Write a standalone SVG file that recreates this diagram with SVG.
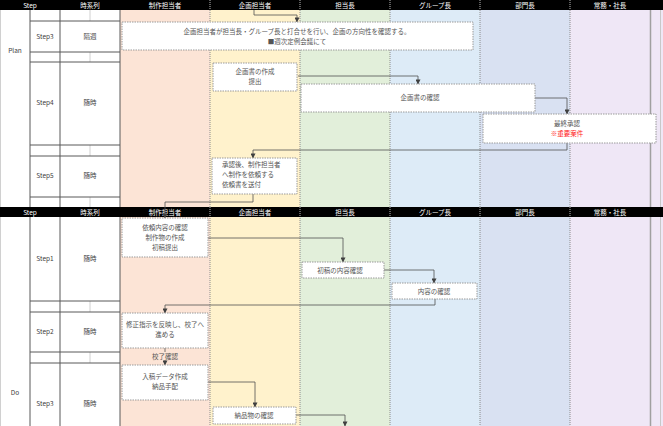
<svg xmlns="http://www.w3.org/2000/svg" width="663" height="426" viewBox="0 0 663 426">
<defs>
<marker id="ah" viewBox="0 0 6 6" refX="5.5" refY="3" markerWidth="5" markerHeight="5" orient="auto" markerUnits="userSpaceOnUse"><path d="M0,0 L6,3 L0,6 z" fill="#404040"/></marker>
<style>
text{font-family:"Noto Sans CJK JP","Liberation Sans",sans-serif;font-size:6.5px}
.hd{fill:#ffffff;text-anchor:middle}
.lt{fill:#404040;text-anchor:middle}
.bt{fill:#555555;text-anchor:middle}
.bl{fill:#555555}
.red{fill:#ff2020;text-anchor:middle}
.box{fill:#ffffff;stroke:#9a9a9a;stroke-width:1;stroke-dasharray:1.5 1}
.lane{stroke:#8a8a8a;stroke-width:1;stroke-dasharray:1 1;fill:none}
.hdiv{stroke:#bbbbbb;stroke-width:1;stroke-dasharray:1 1;fill:none}
.tl{stroke:#595959;stroke-width:1;fill:none}
.tl2{stroke:#d0d0d0;stroke-width:1;fill:none}
.con{stroke:#505050;stroke-width:0.8;fill:none;marker-end:url(#ah)}
</style>
</defs>
<rect x="0" y="0" width="663" height="426" fill="#ffffff"/>
<g id="lanes">
<rect x="120" y="10" width="90" height="416" fill="#fce4d6"/>
<rect x="210" y="10" width="90" height="416" fill="#fff2cc"/>
<rect x="300" y="10" width="90" height="416" fill="#e2efda"/>
<rect x="390" y="10" width="90" height="416" fill="#ddebf7"/>
<rect x="480" y="10" width="90" height="416" fill="#d9e1f2"/>
<rect x="570" y="10" width="93" height="416" fill="#efe7f6"/>
<path class="lane" d="M210,10V426M300,10V426M390,10V426M480,10V426M570,10V426"/>
<path d="M650.5,10V426" stroke="#a0a0a0" stroke-width="1.5"/>
<path d="M660.5,10V426" stroke="#c8c8c8" stroke-width="1"/>
</g>
<g id="header1">
<rect x="0" y="0" width="663" height="10" fill="#000000"/>
<path class="hdiv" d="M210,0V10M300,0V10M390,0V10M480,0V10M570,0V10"/>
<text class="hd" x="30" y="7.5">Step</text>
<text class="hd" x="90" y="7.5">時系列</text>
<text class="hd" x="165" y="7.5">制作担当者</text>
<text class="hd" x="255" y="7.5">企画担当者</text>
<text class="hd" x="345" y="7.5">担当長</text>
<text class="hd" x="435" y="7.5">グループ長</text>
<text class="hd" x="525" y="7.5">部門長</text>
<text class="hd" x="610" y="7.5">常務・社長</text>
</g>
<g id="table-plan">
<path class="tl2" d="M0.5,10V207"/>
<path class="tl2" d="M90,10V21M90,52V62M90,145V156M90,197V207"/>
<path class="tl" d="M30,10V207M60,10V207M120,10V207"/>
<path class="tl" d="M30,21H120M30,52H120M30,62H120M30,145H120M30,156H120M30,197H120"/>
<text class="lt" x="15" y="53">Plan</text>
<text class="lt" x="45" y="39">Step3</text>
<text class="lt" x="90" y="39">隔週</text>
<text class="lt" x="45" y="105">Step4</text>
<text class="lt" x="90" y="105">随時</text>
<text class="lt" x="45" y="178">Step5</text>
<text class="lt" x="90" y="178">随時</text>
</g>
<g id="header2">
<rect x="0" y="207" width="663" height="10" fill="#000000"/>
<path class="hdiv" d="M210,207V217M300,207V217M390,207V217M480,207V217M570,207V217"/>
<text class="hd" x="30" y="214.5">Step</text>
<text class="hd" x="90" y="214.5">時系列</text>
<text class="hd" x="165" y="214.5">制作担当者</text>
<text class="hd" x="255" y="214.5">企画担当者</text>
<text class="hd" x="345" y="214.5">担当長</text>
<text class="hd" x="435" y="214.5">グループ長</text>
<text class="hd" x="525" y="214.5">部門長</text>
<text class="hd" x="610" y="214.5">常務・社長</text>
</g>
<g id="table-do">
<path class="tl2" d="M0.5,217V426"/>
<path class="tl2" d="M90,301V312M90,352V363"/>
<path class="tl" d="M30,217V426M60,217V426M120,217V426"/>
<path class="tl" d="M30,301H120M30,312H120M30,352H120M30,363H120"/>
<text class="lt" x="15" y="395">Do</text>
<text class="lt" x="45" y="261">Step1</text>
<text class="lt" x="90" y="261">随時</text>
<text class="lt" x="45" y="334">Step2</text>
<text class="lt" x="90" y="334">随時</text>
<text class="lt" x="45" y="406">Step3</text>
<text class="lt" x="90" y="406">随時</text>
</g>
<g id="connectors">
<path class="con" d="M254,10V15H297V22"/>
<path class="con" d="M298,76H418V84"/>
<path class="con" d="M535,98H567V114"/>
<path class="con" d="M567,143V150H253V158"/>
<path class="con" d="M253,194V202H165V218"/>
<path class="con" d="M208,238H343V262"/>
<path class="con" d="M384,270H434V283"/>
<path class="con" d="M435,299V305H165V313"/>
<path class="con" d="M165,348V365"/>
<path class="con" d="M208,382H255V407"/>
<path class="con" d="M296,415H345V426"/>
</g>
<g id="p-step3-box">
<rect class="box" x="122" y="22" width="351" height="28"/>
<text class="bt" x="297" y="34">企画担当者が担当長・グループ長と打合せを行い、企画の方向性を確認する。</text>
<text class="bt" x="297" y="44">■週次定例会議にて</text>
</g>
<g id="p-step4-plan">
<rect class="box" x="213" y="63" width="84" height="28"/>
<text class="bt" x="255" y="74">企画書の作成</text>
<text class="bt" x="255" y="84">提出</text>
</g>
<g id="p-step4-check">
<rect class="box" x="301" y="84" width="234" height="28"/>
<text class="bt" x="420" y="100">企画書の確認</text>
</g>
<g id="p-step4-approve">
<rect class="box" x="483" y="114" width="173" height="29"/>
<text class="bt" x="567" y="126">最終承認</text>
<text class="red" x="567" y="136">※重要案件</text>
</g>
<g id="p-step5-box">
<rect class="box" x="212" y="158" width="85" height="36"/>
<text class="bl" x="222" y="167">承認後、制作担当者</text>
<text class="bl" x="222" y="177">へ制作を依頼する</text>
<text class="bl" x="222" y="187">依頼書を送付</text>
</g>
<g id="d-step1-make">
<rect class="box" x="122" y="218" width="86" height="39"/>
<text class="bt" x="165" y="230">依頼内容の確認</text>
<text class="bt" x="165" y="240">制作物の作成</text>
<text class="bt" x="165" y="250">初稿提出</text>
</g>
<g id="d-step1-check">
<rect class="box" x="302" y="262" width="82" height="16"/>
<text class="bt" x="340" y="272.5">初稿の内容確認</text>
</g>
<g id="d-step1-group">
<rect class="box" x="392" y="283" width="85" height="16"/>
<text class="bt" x="434" y="293.5">内容の確認</text>
</g>
<g id="d-step2-box">
<rect class="box" x="122" y="313" width="86" height="35"/>
<text class="bt" x="165" y="327">修正指示を反映し、校了へ</text>
<text class="bt" x="165" y="337">進める</text>
</g>
<g id="d-label">
<rect x="151" y="352" width="28" height="8" fill="#fce4d6"/>
<text class="bt" x="165" y="358.5">校了確認</text>
</g>
<g id="d-step3-box">
<rect class="box" x="122" y="365" width="86" height="35"/>
<text class="bt" x="165" y="379">入稿データ作成</text>
<text class="bt" x="165" y="389">納品手配</text>
</g>
<g id="d-step3-plan">
<rect class="box" x="213" y="407" width="83" height="17"/>
<text class="bt" x="254" y="418">納品物の確認</text>
</g>
</svg>
